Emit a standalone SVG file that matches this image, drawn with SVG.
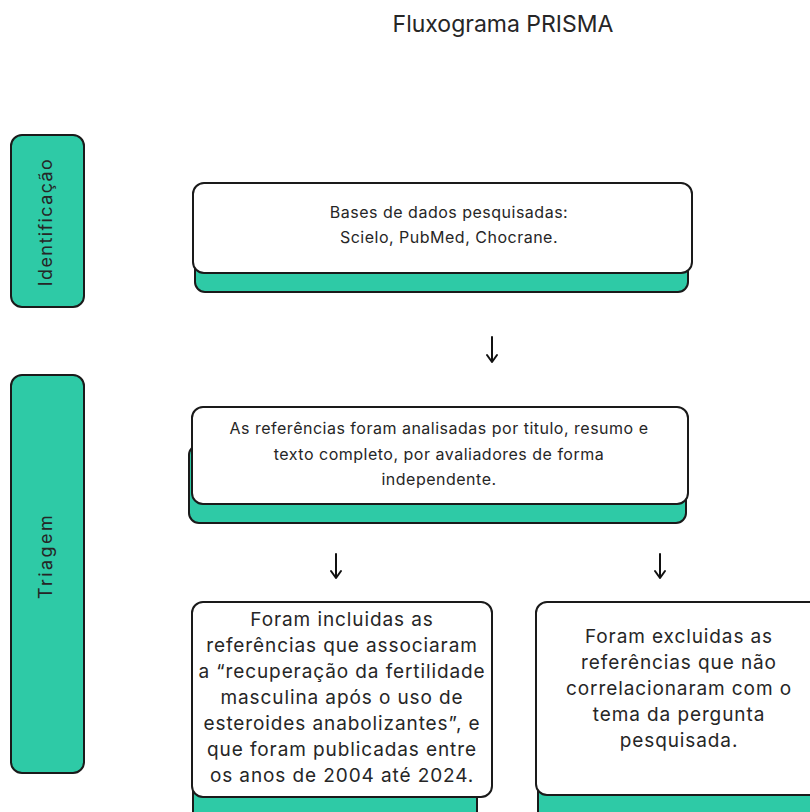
<svg xmlns="http://www.w3.org/2000/svg" width="810" height="812" viewBox="0 0 810 812">
<defs>
<style>
.bg{fill:#ffffff}
.band{fill:#2ECAA6;stroke:#1a1a1a;stroke-width:2}
.card{fill:#ffffff;stroke:#1a1a1a;stroke-width:2}
.shadow{fill:#2ECAA6;stroke:#1a1a1a;stroke-width:2}
.t{font-family:Inter,"Open Sans",sans-serif;fill:#262626;text-anchor:middle}
.body{font-size:16px;letter-spacing:0.5px}
.big{font-size:19px;letter-spacing:0.9px}
.lab{font-size:18px}
.arrow{stroke:#111111;stroke-width:2;fill:none;stroke-linecap:round;stroke-linejoin:round}
</style>
</defs>
<rect class="bg" x="0" y="0" width="810" height="812"/>
<text class="t" x="503" y="32" style="font-size:23px">Fluxograma PRISMA</text>

<g id="identificacao">
<rect class="band" x="11" y="135" width="73" height="172" rx="11"/>
<text class="t lab" transform="translate(52,222) rotate(-90)" style="letter-spacing:1.4px">Identificação</text>
</g>
<g id="triagem">
<rect class="band" x="11" y="375" width="73" height="398" rx="11"/>
<text class="t lab" transform="translate(52,556) rotate(-90)" style="letter-spacing:2.4px">Triagem</text>
</g>

<g id="bases">
<rect class="shadow" x="195" y="220" width="493" height="72" rx="10"/>
<rect class="card" x="193" y="183" width="499" height="90" rx="11"/>
<text class="t body" x="449" y="218">Bases de dados pesquisadas:</text>
<text class="t body" x="449" y="243">Scielo, PubMed, Chocrane.</text>
</g>

<g id="analise">
<rect class="shadow" x="189" y="445" width="497" height="78" rx="10"/>
<rect class="card" x="192" y="407" width="496" height="97" rx="11"/>
<text class="t body" x="439" y="434">As referências foram analisadas por titulo, resumo e</text>
<text class="t body" x="439" y="460">texto completo, por avaliadores de forma</text>
<text class="t body" x="439" y="485">independente.</text>
</g>

<g id="incluidas">
<rect class="shadow" x="193" y="740" width="284" height="90" rx="10"/>
<rect class="card" x="192" y="602" width="300" height="195" rx="11"/>
<text class="t big" x="342" y="626">Foram incluidas as</text>
<text class="t big" x="342" y="652">referências que associaram</text>
<text class="t big" x="342" y="678">a “recuperação da fertilidade</text>
<text class="t big" x="342" y="704">masculina após o uso de</text>
<text class="t big" x="342" y="730">esteroides anabolizantes”, e</text>
<text class="t big" x="342" y="756">que foram publicadas entre</text>
<text class="t big" x="342" y="782">os anos de 2004 até 2024.</text>
</g>

<g id="excluidas">
<rect class="shadow" x="538" y="740" width="290" height="90" rx="10"/>
<rect class="card" x="536" y="602" width="300" height="193" rx="11"/>
<text class="t big" x="679" y="643">Foram excluidas as</text>
<text class="t big" x="679" y="669">referências que não</text>
<text class="t big" x="679" y="695">correlacionaram com o</text>
<text class="t big" x="679" y="721">tema da pergunta</text>
<text class="t big" x="679" y="747">pesquisada.</text>
</g>

<g id="connectors">
<path class="arrow" d="M492 337 V362 M487 355 L492 362 L497 355"/>
<path class="arrow" d="M336 554 V578 M331 571 L336 578 L341 571"/>
<path class="arrow" d="M660 554 V578 M655 571 L660 578 L665 571"/>
</g>
</svg>
